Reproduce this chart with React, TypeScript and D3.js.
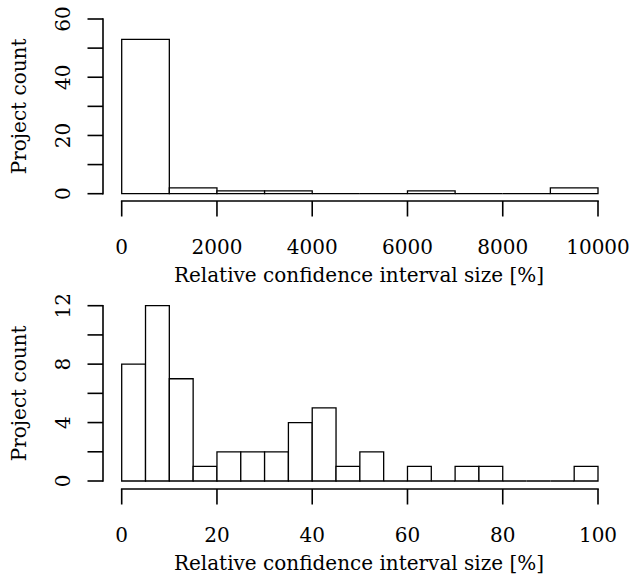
import React from "react";
import * as d3 from "d3";

// Top histogram: bins of width 1000 over 0..10000
const topBinStarts = [0, 1000, 2000, 3000, 4000, 5000, 6000, 7000, 8000, 9000];
const topBinWidth = 1000;
const topCounts = [53, 2, 1, 1, 0, 0, 1, 0, 0, 2];
const topXTicks = [0, 2000, 4000, 6000, 8000, 10000];
const topYTicks = [0, 10, 20, 30, 40, 50, 60];
const topYLabels = [0, 20, 40, 60];

// Bottom histogram: bins of width 5 over 0..100
const botBinStarts = [0, 5, 10, 15, 20, 25, 30, 35, 40, 45, 50, 55, 60, 65, 70, 75, 80, 85, 90, 95];
const botBinWidth = 5;
const botCounts = [8, 12, 7, 1, 2, 2, 2, 4, 5, 1, 2, 0, 1, 0, 1, 1, 0, 0, 0, 1];
const botXTicks = [0, 20, 40, 60, 80, 100];
const botYTicks = [0, 2, 4, 6, 8, 10, 12];
const botYLabels = [0, 4, 8, 12];

const xLabel = "Relative confidence interval size [%]";
const yLabel = "Project count";

const FONT = "'DejaVu Serif', 'Liberation Serif', serif";
const FS = 20;

type PanelProps = {
  starts: number[];
  width: number;
  counts: number[];
  xTicks: number[];
  yTicks: number[];
  yLabels: number[];
  xDomain: [number, number];
  yDomain: [number, number];
  yTop: number;
  yBottom: number;
  xAxisY: number;
};

function Panel(p: PanelProps) {
  const x = d3.scaleLinear().domain(p.xDomain).range([121.7, 598]);
  const y = d3.scaleLinear().domain(p.yDomain).range([p.yBottom, p.yTop]);
  const yAxisX = 103;
  const tickLen = 15.5;
  const midY = (p.yTop + p.yBottom) / 2;
  return (
    <g>
      {/* bars */}
      {p.starts.map((s, i) => {
        const x0 = x(s);
        const x1 = x(s + p.width);
        const yv = y(p.counts[i]);
        const d = `M${x0},${p.yBottom}L${x0},${yv}L${x1},${yv}L${x1},${p.yBottom}Z`;
        return <path key={i} d={d} fill="#fff" stroke="#000" strokeWidth={1.3} />;
      })}
      {/* y axis */}
      <line x1={yAxisX} x2={yAxisX} y1={y(p.yDomain[0])} y2={y(p.yDomain[1])} stroke="#000" strokeWidth={1.6} strokeLinecap="square" />
      {p.yTicks.map((t) => (
        <line key={t} x1={yAxisX - tickLen} x2={yAxisX} y1={y(t)} y2={y(t)} stroke="#000" strokeWidth={1.6} />
      ))}
      {p.yLabels.map((t) => (
        <text
          key={t}
          transform={`translate(70,${y(t)}) rotate(-90)`}
          textAnchor="middle"
          style={{ fontFamily: FONT, fontSize: FS }}
        >
          {t}
        </text>
      ))}
      <text
        transform={`translate(25.5,${midY}) rotate(-90)`}
        textAnchor="middle"
        style={{ fontFamily: FONT, fontSize: FS }}
      >
        {yLabel}
      </text>
      {/* x axis */}
      <line x1={x(p.xDomain[0])} x2={x(p.xDomain[1])} y1={p.xAxisY} y2={p.xAxisY} stroke="#000" strokeWidth={1.6} strokeLinecap="square" />
      {p.xTicks.map((t) => (
        <line key={t} x1={x(t)} x2={x(t)} y1={p.xAxisY} y2={p.xAxisY + tickLen} stroke="#000" strokeWidth={1.6} />
      ))}
      {p.xTicks.map((t) => (
        <text
          key={t}
          x={x(t)}
          y={p.xAxisY + 52.5}
          textAnchor="middle"
          style={{ fontFamily: FONT, fontSize: FS }}
        >
          {t}
        </text>
      ))}
      <text
        x={359}
        y={p.xAxisY + 81}
        textAnchor="middle"
        style={{ fontFamily: FONT, fontSize: FS }}
      >
        {xLabel}
      </text>
    </g>
  );
}

export default function App() {
  return (
    <svg
      width={631}
      height={577}
      style={{ position: "absolute", left: 0, top: 0, background: "#fff" }}
    >
      <rect x={0} y={0} width={631} height={577} fill="#fff" />
      <Panel
        starts={topBinStarts}
        width={topBinWidth}
        counts={topCounts}
        xTicks={topXTicks}
        yTicks={topYTicks}
        yLabels={topYLabels}
        xDomain={[0, 10000]}
        yDomain={[0, 60]}
        yTop={19}
        yBottom={193.7}
        xAxisY={201}
      />
      <Panel
        starts={botBinStarts}
        width={botBinWidth}
        counts={botCounts}
        xTicks={botXTicks}
        yTicks={botYTicks}
        yLabels={botYLabels}
        xDomain={[0, 100]}
        yDomain={[0, 12]}
        yTop={305.7}
        yBottom={481}
        xAxisY={489}
      />
    </svg>
  );
}
